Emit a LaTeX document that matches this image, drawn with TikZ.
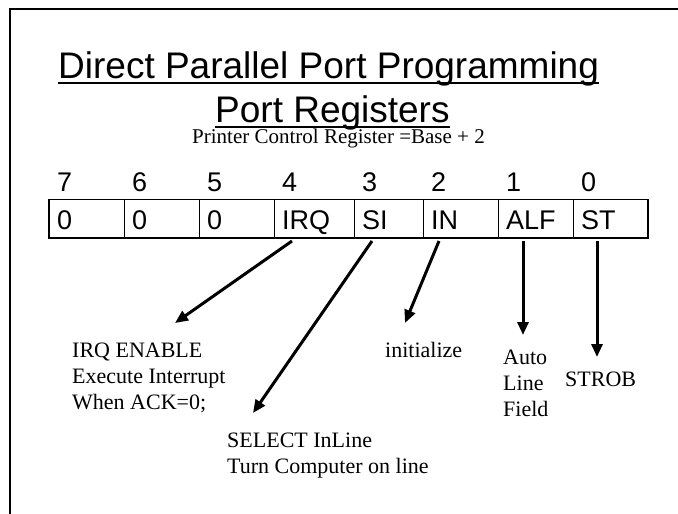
\documentclass[tikz,border=0pt]{standalone}
\usepackage{fontspec}
\setmainfont{Liberation Serif}
\newfontfamily\arialfont{Liberation Sans}
\usetikzlibrary{arrows.meta,positioning}

\begin{document}
\begin{tikzpicture}[
  x=1pt, y=-1pt,
  cell/.style={draw, line width=0.8pt, outer sep=0pt, anchor=north west,
               minimum height=38.5pt, inner xsep=8pt, inner ysep=0pt,
               text height=21pt, text depth=0pt, align=left,
               font=\arialfont\fontsize{27}{30}\selectfont},
  bitnum/.style={anchor=base west, inner sep=0pt, font=\arialfont\fontsize{27}{30}\selectfont},
  heading/.style={anchor=base west, inner sep=0pt, font=\arialfont\fontsize{37}{40}\selectfont},
  note/.style={anchor=north west, inner sep=0pt, align=left, font=\fontsize{22}{26}\selectfont},
  arr/.style={-{Triangle[length=13pt,width=11pt]}, line width=3pt},
  >=Stealth
]
  \useasboundingbox (0,0) rectangle (678,514);
  % slide frame
  \draw[line width=2pt] (10,514) -- (10,9) -- (678,9);
  % headings
  \node[heading] (title) at (58,78) {Direct Parallel Port Programming};
  \draw[line width=1.7pt] ([yshift=-5pt]title.base west) -- ([yshift=-5pt]title.base east);
  \node[heading] (subtitle) at (215,122) {Port Registers};
  \draw[line width=1.7pt] ([yshift=-5pt]subtitle.base west) -- ([yshift=-5pt]subtitle.base east);
  \node[anchor=base west, inner sep=0pt, font=\fontsize{21}{24}\selectfont] (regname) at (192,143)
    {Printer Control Register =Base + 2};
  % register cells
  \node[cell, text width=59pt] (b7) at (49,199.5) {0};
  \node[cell, text width=59pt, right=0pt of b7] (b6) {0};
  \node[cell, text width=59pt, right=0pt of b6] (b5) {0};
  \node[cell, text width=64pt, right=0pt of b5] (b4) {IRQ};
  \node[cell, text width=53pt, right=0pt of b4] (b3) {SI};
  \node[cell, text width=59pt, right=0pt of b3] (b2) {IN};
  \node[cell, text width=59pt, right=0pt of b2] (b1) {ALF};
  \node[cell, text width=59pt, right=0pt of b1] (b0) {ST};
  \draw[line width=1.4pt] (b7.north west) rectangle (b0.south east);
  % bit numbers
  \foreach \b in {7,6,...,0}
    \node[bitnum, xshift=8pt, yshift=8pt] (n\b) at (b\b.north west) {\b};
  % descriptions
  \node[note] (irqnote) at (72,343) {IRQ ENABLE\\Execute Interrupt\\When ACK=0;};
  \node[note] (sinote)  at (227,433) {SELECT InLine\\Turn Computer on line};
  \node[note] (innote)  at (385,342) {initialize};
  \node[note] (alfnote) at (503,350) {Auto\\Line\\Field};
  \node[note] (stnote)  at (565,372) {STROB};
  % arrow tips
  \coordinate (irqtip) at (175,323);
  \coordinate (sitip)  at (253,413);
  \coordinate (intip)  at (405,323);
  \coordinate (alftip) at ([xshift=25pt,yshift=-97pt]b1.south west);
  \coordinate (sttip)  at ([xshift=24pt,yshift=-119pt]b0.south west);
  % arrows
  \draw[arr] ([xshift=18pt,yshift=-3pt]b4.south west) -- (irqtip);
  \draw[arr] ([xshift=18pt,yshift=-3pt]b3.south west) -- (sitip);
  \draw[arr] ([xshift=16pt,yshift=-3pt]b2.south west) -- (intip);
  \draw[arr] ([xshift=25pt,yshift=-3pt]b1.south west) -- (alftip);
  \draw[arr] ([xshift=24pt,yshift=-3pt]b0.south west) -- (sttip);
\end{tikzpicture}
\end{document}
